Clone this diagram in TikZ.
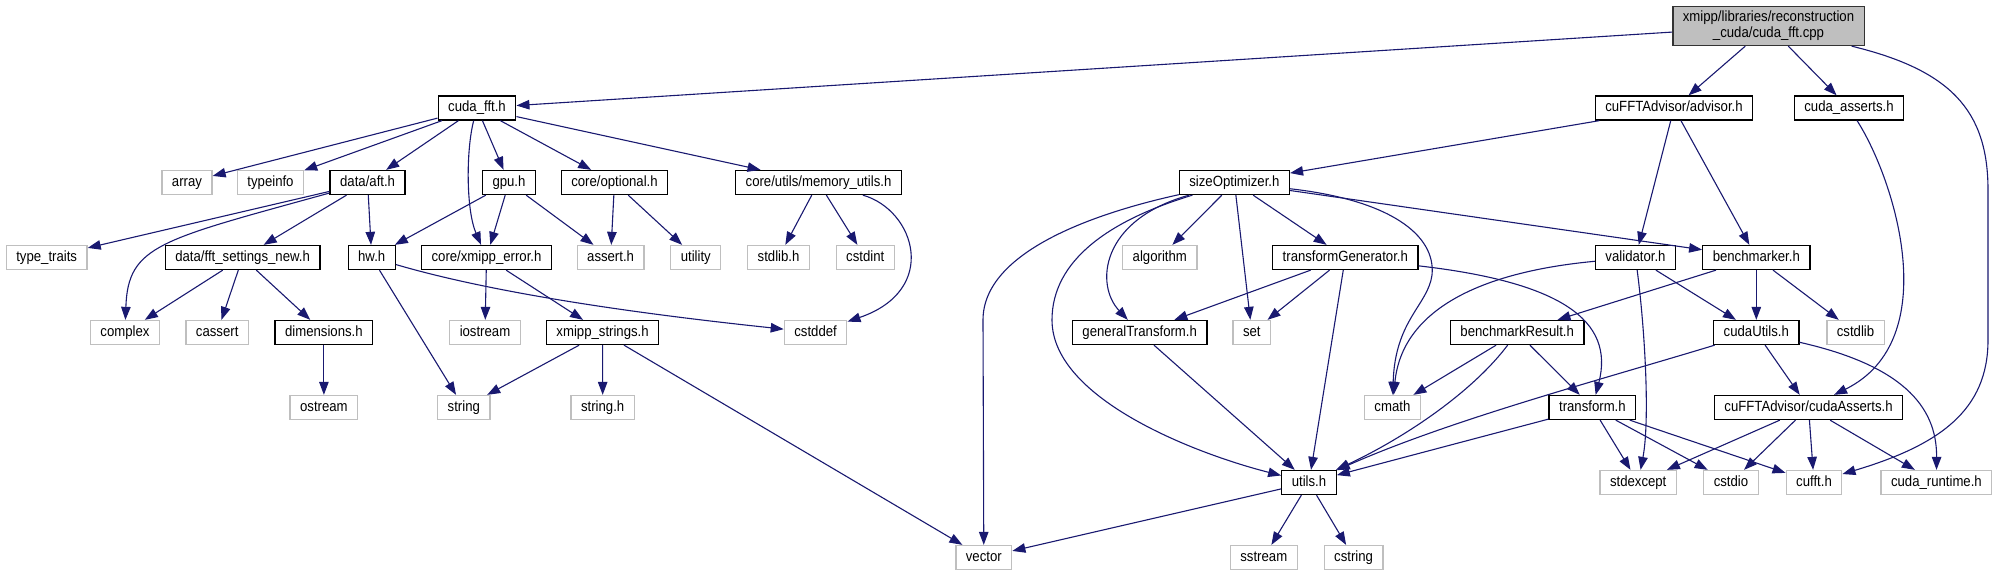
\documentclass[tikz,border=0pt]{standalone}
\usepackage{fontspec}
\setmainfont{Liberation Sans}[FakeStretch=0.89]
\usepackage{xcolor}
\usetikzlibrary{arrows.meta}

\definecolor{edgeblue}{HTML}{191970}
\definecolor{grey75}{HTML}{BFBFBF}

\begin{document}
\begin{tikzpicture}[x=1pt, y=-1pt,
		hdr/.style={draw=black, fill=white, line width=1.3pt, rectangle, minimum height=24pt, inner xsep=10pt, inner ysep=0pt, text height=10.4pt, text depth=3.1pt, font=\fontsize{14.8}{15.7}\selectfont},
		sys/.style={hdr, draw=grey75},
		mainfile/.style={hdr, fill=grey75, draw=black!80, minimum height=39pt, align=center, text height=, text depth=},
		dep/.style={draw=edgeblue, line width=1.1pt, -{Triangle[length=13pt, width=9.5pt]}}]
		\useasboundingbox (0,0) rectangle (1995,575);

		% Nodes
		\node[mainfile] (cpp) at (1768.5,26) {xmipp/libraries/reconstruction\\\_cuda/cuda\_fft.cpp};

		\node[hdr] (cudafft) at (477,108) {cuda\_fft.h};
		\node[hdr] (advisor) at (1674,108) {cuFFTAdvisor/advisor.h};
		\node[hdr] (cudaasserts) at (1849,108) {cuda\_asserts.h};

		\node[sys] (array) at (187,182.5) {array};
		\node[sys] (typeinfo) at (270.5,182.5) {typeinfo};
		\node[hdr] (aft) at (367.6,182.5) {data/aft.h};
		\node[hdr] (gpu) at (509,182.5) {gpu.h};
		\node[hdr] (optional) at (614.5,182.5) {core/optional.h};
		\node[hdr] (memutils) at (818.5,182.5) {core/utils/memory\_utils.h};
		\node[hdr] (sizeopt) at (1234.4,182.5) {sizeOptimizer.h};

		\node[sys] (typetraits) at (46.7,257.5) {type\_traits};
		\node[hdr] (fftset) at (242.6,257.5) {data/fft\_settings\_new.h};
		\node[hdr] (hw) at (371.7,257.5) {hw.h};
		\node[hdr] (xerror) at (486.5,257.5) {core/xmipp\_error.h};
		\node[sys] (asserth) at (610.6,257.5) {assert.h};
		\node[sys] (utility) at (695.8,257.5) {utility};
		\node[sys] (stdlibh) at (778.6,257.5) {stdlib.h};
		\node[sys] (cstdint) at (865.2,257.5) {cstdint};
		\node[sys] (algorithm) at (1159.8,257.5) {algorithm};
		\node[hdr] (transgen) at (1345.3,257.5) {transformGenerator.h};
		\node[hdr] (validator) at (1635.5,257.5) {validator.h};
		\node[hdr] (benchmarker) at (1756.3,257.5) {benchmarker.h};

		\node[sys] (complex) at (125,332.5) {complex};
		\node[sys] (cassert) at (217.2,332.5) {cassert};
		\node[hdr] (dimensions) at (323.9,332.5) {dimensions.h};
		\node[sys] (iostream) at (485,332.5) {iostream};
		\node[hdr] (xstrings) at (602.6,332.5) {xmipp\_strings.h};
		\node[sys] (cstddef) at (815.6,332.5) {cstddef};
		\node[hdr] (gentrans) at (1139.7,332.5) {generalTransform.h};
		\node[sys] (set) at (1251.8,332.5) {set};
		\node[hdr] (benchres) at (1517.2,332.5) {benchmarkResult.h};
		\node[hdr] (cudautils) at (1756.3,332.5) {cudaUtils.h};
		\node[sys] (cstdlib) at (1855.5,332.5) {cstdlib};

		\node[sys] (ostream) at (323.9,407.5) {ostream};
		\node[sys] (string) at (463.8,407.5) {string};
		\node[sys] (stringh) at (602.7,407.5) {string.h};
		\node[sys] (cmath) at (1392.4,407.5) {cmath};
		\node[hdr] (transform) at (1592.4,407.5) {transform.h};
		\node[hdr] (advasserts) at (1808.5,407.5) {cuFFTAdvisor/cudaAsserts.h};

		\node[hdr] (utils) at (1309,482.5) {utils.h};
		\node[sys] (stdexcept) at (1638.2,482.5) {stdexcept};
		\node[sys] (cstdio) at (1731,482.5) {cstdio};
		\node[sys] (cufft) at (1814,482.5) {cufft.h};
		\node[sys] (cudaruntime) at (1936.4,482.5) {cuda\_runtime.h};

		\node[sys] (vector) at (983.8,557.5) {vector};
		\node[sys] (sstream) at (1263.8,557.5) {sstream};
		\node[sys] (cstring) at (1353.6,557.5) {cstring};

		% Includes of cuda_fft.cpp
		\draw[dep] (cpp) -- (cudafft);
		\draw[dep] (cpp) -- (advisor);
		\draw[dep] (cpp) -- (cudaasserts);
		\draw[dep] (cpp) .. controls (1950,70) and (1988,110) .. (1988,190) -- (1988,340) .. controls (1988,410) and (1940,445) .. (cufft);

		% Includes of cuda_fft.h
		\draw[dep] (cudafft) -- (array);
		\draw[dep] (cudafft) -- (typeinfo);
		\draw[dep] (cudafft) -- (aft);
		\draw[dep] (cudafft) .. controls (466,150) and (466,210) .. (xerror);
		\draw[dep] (cudafft) -- (gpu);
		\draw[dep] (cudafft) -- (optional);
		\draw[dep] (cudafft) -- (memutils);

		% data/aft.h, gpu.h, core/optional.h, memory_utils.h
		\draw[dep] (aft) -- (typetraits);
		\draw[dep] (aft) .. controls (160,240) and (128,245) .. (complex);
		\draw[dep] (aft) -- (fftset);
		\draw[dep] (aft) -- (hw);
		\draw[dep] (gpu) -- (hw);
		\draw[dep] (gpu) -- (xerror);
		\draw[dep] (gpu) -- (asserth);
		\draw[dep] (optional) -- (asserth);
		\draw[dep] (optional) -- (utility);
		\draw[dep] (memutils) -- (stdlibh);
		\draw[dep] (memutils) -- (cstdint);
		\draw[dep] (memutils) .. controls (915,210) and (940,290) .. (cstddef);

		% Third row on the left
		\draw[dep] (fftset) -- (complex);
		\draw[dep] (fftset) -- (cassert);
		\draw[dep] (fftset) -- (dimensions);
		\draw[dep] (hw) -- (string);
		\draw[dep] (hw) .. controls (500,295) and (650,315) .. (cstddef);
		\draw[dep] (xerror) -- (iostream);
		\draw[dep] (xerror) -- (xstrings);
		\draw[dep] (dimensions) -- (ostream);
		\draw[dep] (xstrings) -- (string);
		\draw[dep] (xstrings) -- (stringh);
		\draw[dep] (xstrings) -- (vector);

		% cuFFTAdvisor
		\draw[dep] (advisor) -- (sizeopt);
		\draw[dep] (advisor) -- (validator);
		\draw[dep] (advisor) -- (benchmarker);
		\draw[dep] (cudaasserts) .. controls (1895,180) and (1945,340) .. (advasserts);

		\draw[dep] (sizeopt) .. controls (1100,212) and (983,250) .. (983,320) -- (vector);
		\draw[dep] (sizeopt) .. controls (1100,220) and (1095,285) .. (gentrans);
		\draw[dep] (sizeopt) .. controls (1110,220) and (1052,260) .. (1052,320) .. controls (1052,400) and (1200,455) .. (utils);
		\draw[dep] (sizeopt) -- (algorithm);
		\draw[dep] (sizeopt) -- (set);
		\draw[dep] (sizeopt) -- (transgen);
		\draw[dep] (sizeopt) .. controls (1390,200) and (1436,235) .. (1432,275) .. controls (1428,305) and (1395,320) .. (cmath);
		\draw[dep] (sizeopt) -- (benchmarker);

		\draw[dep] (transgen) -- (gentrans);
		\draw[dep] (transgen) -- (set);
		\draw[dep] (transgen) -- (utils);
		\draw[dep] (transgen) .. controls (1560,282) and (1615,320) .. (transform);

		\draw[dep] (validator) .. controls (1480,272) and (1402,310) .. (cmath);
		\draw[dep] (validator) -- (cudautils);
		\draw[dep] (validator) .. controls (1645,330) and (1650,420) .. (stdexcept);

		\draw[dep] (benchmarker) -- (benchres);
		\draw[dep] (benchmarker) -- (cudautils);
		\draw[dep] (benchmarker) -- (cstdlib);

		\draw[dep] (gentrans) -- (utils);
		\draw[dep] (benchres) -- (cmath);
		\draw[dep] (benchres) .. controls (1470,395) and (1400,440) .. (utils);
		\draw[dep] (benchres) -- (transform);

		\draw[dep] (cudautils) .. controls (1600,380) and (1450,420) .. (utils);
		\draw[dep] (cudautils) -- (advasserts);
		\draw[dep] (cudautils) .. controls (1900,365) and (1937,405) .. (cudaruntime);

		\draw[dep] (transform) -- (utils);
		\draw[dep] (transform) -- (stdexcept);
		\draw[dep] (transform) -- (cstdio);
		\draw[dep] (transform) -- (cufft);

		\draw[dep] (advasserts) -- (stdexcept);
		\draw[dep] (advasserts) -- (cstdio);
		\draw[dep] (advasserts) -- (cufft);
		\draw[dep] (advasserts) -- (cudaruntime);

		% Includes of utils.h
		\draw[dep] (utils) -- (vector);
		\draw[dep] (utils) -- (sstream);
		\draw[dep] (utils) -- (cstring);
	\end{tikzpicture}
\end{document}
